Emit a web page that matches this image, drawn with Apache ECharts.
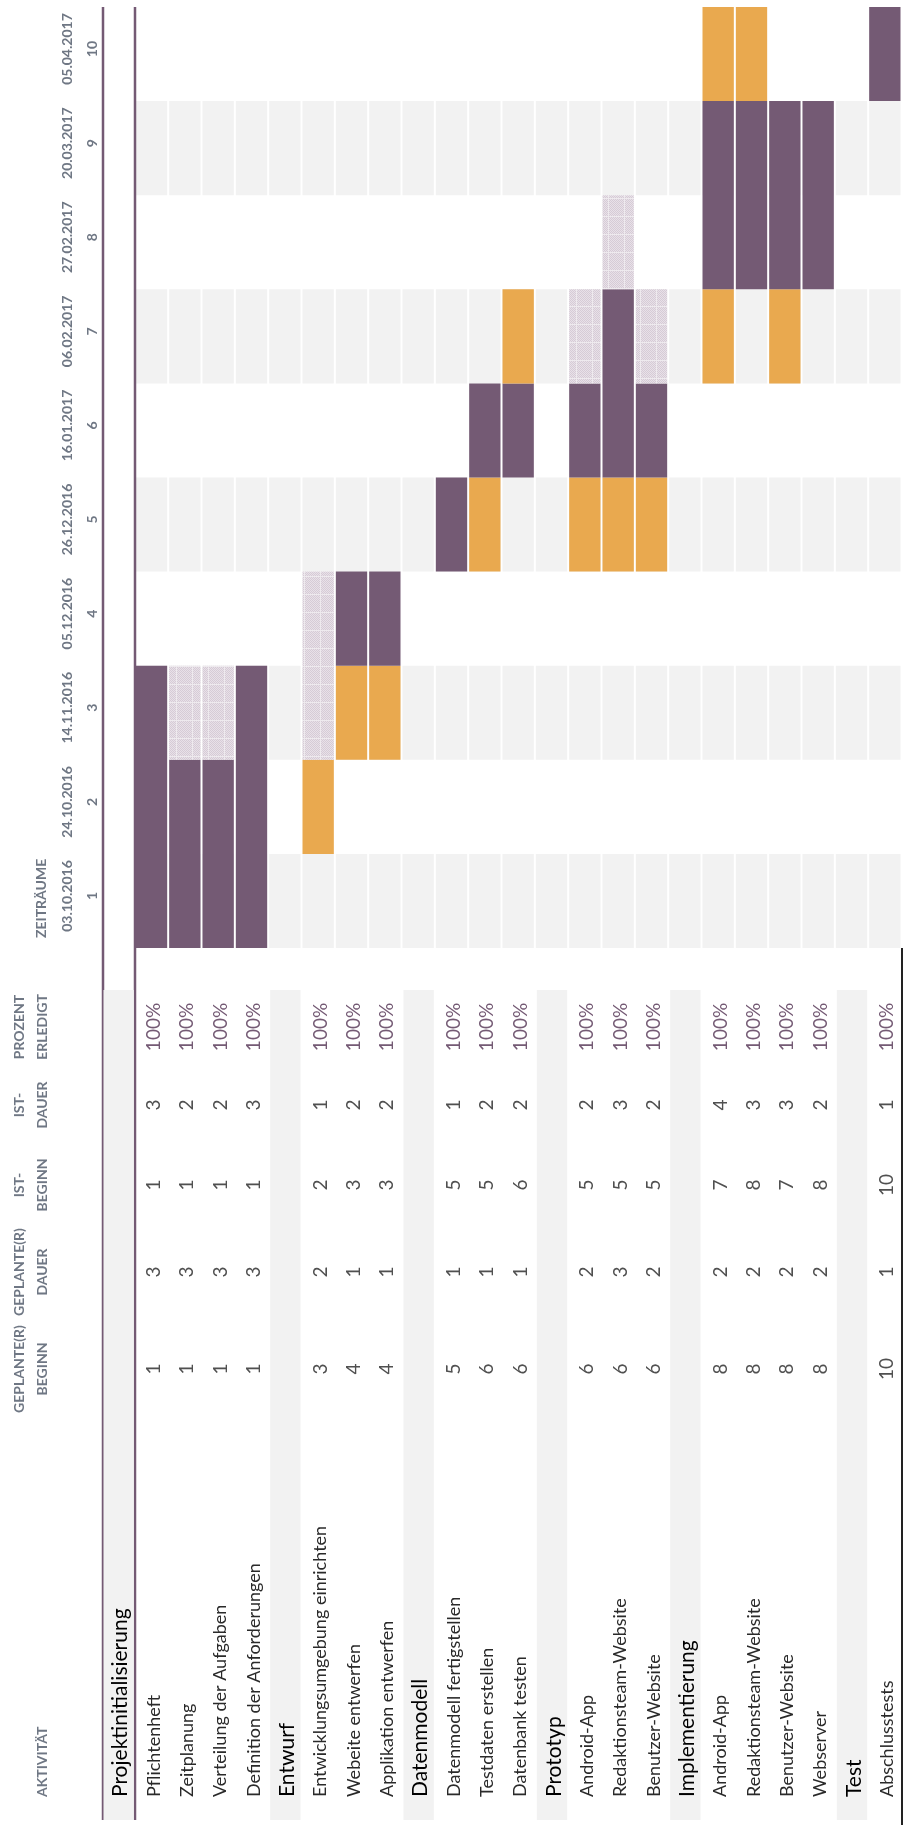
<!DOCTYPE html>
<html>
<head>
<meta charset="utf-8">
<script src="https://cdn.jsdelivr.net/npm/echarts@6/dist/echarts.min.js"></script>
<style>
  html, body { margin: 0; padding: 0; background: #fff; }
  #main { width: 905px; height: 1831px; }
</style>
</head>
<body>
<div id="main"></div>
<script>
// Projektplan, um 90° gedreht
var activities = ['Projektinitialisierung', 'Pflichtenheft', 'Zeitplanung', 'Verteilung der Aufgaben',
    'Definition der Anforderungen', 'Entwurf', 'Entwicklungsumgebung einrichten', 'Webeite entwerfen',
    'Applikation entwerfen', 'Datenmodell', 'Datenmodell fertigstellen', 'Testdaten erstellen',
    'Datenbank testen', 'Prototyp', 'Android-App', 'Redaktionsteam-Website', 'Benutzer-Website',
    'Implementierung', 'Android-App', 'Redaktionsteam-Website', 'Benutzer-Website', 'Webserver',
    'Test', 'Abschlusstests'];
// null = Abschnittszeile
var planStart = [null, 1, 1, 1, 1, null, 3, 4, 4, null, 5, 6, 6, null, 6, 6, 6, null, 8, 8, 8, 8, null, 10];
var planDur   = [null, 3, 3, 3, 3, null, 2, 1, 1, null, 1, 1, 1, null, 2, 3, 2, null, 2, 2, 2, 2, null, 1];
var actStart  = [null, 1, 1, 1, 1, null, 2, 3, 3, null, 5, 5, 6, null, 5, 5, 5, null, 7, 8, 7, 8, null, 10];
var actDur    = [null, 3, 2, 2, 3, null, 1, 2, 2, null, 1, 2, 2, null, 2, 3, 2, null, 4, 3, 3, 2, null, 1];
var percent   = [null, 100, 100, 100, 100, null, 100, 100, 100, null, 100, 100, 100, null, 100, 100, 100,
    null, 100, 100, 100, 100, null, 100];

var periods = ['1', '2', '3', '4', '5', '6', '7', '8', '9', '10'];
var dates = ['03.10.2016', '24.10.2016', '14.11.2016', '05.12.2016', '26.12.2016',
    '16.01.2017', '06.02.2017', '27.02.2017', '20.03.2017', '05.04.2017'];

var PURPLE = '#745a74', ORANGE = '#e9a94f', GRAY = '#f2f2f2';
var HEAD = '#6f7784', TXT = '#2a2a2a';
var FONT = 'Lato, "Open Sans", sans-serif';

// Schraffur für Plandauer
var pat = document.createElement('canvas');
pat.width = 16; pat.height = 18;
var pc = pat.getContext('2d');
pc.fillStyle = '#e8e1e8';
pc.fillRect(0, 0, 16, 18);
pc.fillStyle = '#d6cbd6';
for (var py = 0; py < 18; py++) {
    for (var px = 0; px < 16; px++) {
        if ((px + py) % 2 === 0) pc.fillRect(px, py, 1, 1);
    }
}
pc.fillStyle = '#eeeaee';
pc.fillRect(0, 0, 16, 1);
pc.fillRect(0, 0, 1, 18);
var HATCH = { image: pat, repeat: 'repeat' };

// Segmente: 1 = Ist im Plan, 2 = Ist über Plan hinaus, 3 = Plan ohne Ist
var segments = [];
activities.forEach(function (name, r) {
    if (planStart[r] == null) return;
    var cur = null;
    for (var p = 1; p <= 10; p++) {
        var inPlan = p >= planStart[r] && p < planStart[r] + planDur[r];
        var inAct = p >= actStart[r] && p < actStart[r] + actDur[r];
        var k = inAct ? (inPlan ? 1 : 2) : (inPlan ? 3 : 0);
        if (cur && cur[3] === k && k) { cur[2] = p - 1; continue; }
        cur = k ? [r, p - 1, p - 1, k] : null;
        if (cur) segments.push(cur);
    }
});

var shade = [];
for (var r = 1; r < activities.length; r++) {
    for (var q = 0; q < periods.length; q += 2) shade.push([r, q]);
}

var colY = [1369, 1272, 1185, 1105, 1027];
var cols = [planStart, planDur, actStart, actDur, percent];

var myChart = echarts.init(document.getElementById('main'));

function head(txt, y) {
    return { type: 'text', x: 31, y: y, rotation: Math.PI / 2,
        style: { text: txt, fill: HEAD, font: 'bold 14px ' + FONT, lineHeight: 23, align: 'center', verticalAlign: 'middle' } };
}

var option = {
    animation: false,
    grid: { left: 102, width: 800, top: 7, height: 941 },
    xAxis: { type: 'category', data: activities.map(function (a, i) { return i; }), show: false },
    yAxis: { type: 'category', data: periods, show: false },
    graphic: [
        { type: 'line', z: 1, shape: { x1: 103, y1: 7, x2: 103, y2: 1820 }, style: { stroke: PURPLE, lineWidth: 2.5 } },
        { type: 'line', z: 1, shape: { x1: 135, y1: 7, x2: 135, y2: 1820 }, style: { stroke: PURPLE, lineWidth: 2.5 } },
        { type: 'line', z: 1, shape: { x1: 902, y1: 948, x2: 902, y2: 1825 }, style: { stroke: '#222', lineWidth: 2 } },
        { type: 'text', x: 42, y: 1797, rotation: Math.PI / 2,
          style: { text: 'AKTIVITÄT', fill: HEAD, font: 'bold 14px ' + FONT, align: 'left', verticalAlign: 'middle' } },
        head('GEPLANTE(R)\nBEGINN', colY[0]),
        head('GEPLANTE(R)\nDAUER', colY[1]),
        head('IST-\nBEGINN', colY[2]),
        head('IST-\nDAUER', colY[3]),
        head('PROZENT\nERLEDIGT', colY[4]),
        { type: 'text', x: 41, y: 938, rotation: Math.PI / 2,
          style: { text: 'ZEITRÄUME', fill: HEAD, font: 'bold 14px ' + FONT, align: 'left', verticalAlign: 'middle' } }
    ],
    series: [
        {
            // graue Bänder der ungeraden Zeiträume
            type: 'custom',
            z: 0,
            encode: { x: 0, y: 1 },
            data: shade,
            renderItem: function (params, api) {
                var c = api.coord([api.value(0), api.value(1)]);
                var s = api.size([1, 1]);
                return { type: 'rect', shape: { x: c[0] - s[0] / 2 + 0.5, y: c[1] - s[1] / 2, width: s[0] - 2, height: s[1] },
                    style: { fill: GRAY } };
            }
        },
        {
            type: 'custom',
            z: 3,
            encode: { x: 0, y: [1, 2] },
            data: segments,
            renderItem: function (params, api) {
                var a = api.coord([api.value(0), api.value(1)]);
                var b = api.coord([api.value(0), api.value(2)]);
                var s = api.size([1, 1]);
                var k = api.value(3);
                var fill = k === 1 ? PURPLE : (k === 2 ? ORANGE : HATCH);
                var top = b[1] - s[1] / 2, bottom = a[1] + s[1] / 2;
                return { type: 'rect', shape: { x: a[0] - s[0] / 2 + 0.5, y: top, width: s[0] - 2, height: bottom - top },
                    style: { fill: fill } };
            }
        },
        {
            // Zeitraum-Beschriftung
            type: 'custom',
            z: 3,
            encode: { x: 0, y: 1 },
            data: periods.map(function (p, i) { return [0, i]; }),
            renderItem: function (params, api) {
                var i = params.dataIndex;
                var c = api.coord([0, i]);
                return { type: 'group', children: [
                    { type: 'text', x: 67, y: c[1] - 5, rotation: Math.PI / 2,
                      style: { text: dates[i], fill: HEAD, font: 'bold 14px ' + FONT, align: 'center', verticalAlign: 'middle' } },
                    { type: 'text', x: 92, y: c[1] - 5, rotation: Math.PI / 2,
                      style: { text: periods[i], fill: HEAD, font: 'bold 14px ' + FONT, align: 'center', verticalAlign: 'middle' } }
                ] };
            }
        },
        {
            // Tabelle
            type: 'custom',
            z: 2,
            encode: { x: 0, y: 1 },
            data: activities.map(function (a, i) { return [i, 0]; }),
            renderItem: function (params, api) {
                var i = params.dataIndex;
                var c = api.coord([i, 0]);
                var s = api.size([1, 1]);
                var xc = c[0];
                var sec = planStart[i] == null;
                var children = [];
                if (sec) {
                    children.push({ type: 'rect', shape: { x: xc - s[0] / 2 + 1.5, y: 990, width: s[0] - 3, height: 830 },
                        style: { fill: GRAY } });
                }
                children.push({ type: 'text', x: xc + 2, y: 1797, rotation: Math.PI / 2,
                    style: { text: activities[i], fill: sec ? '#000' : TXT,
                        font: (sec ? '21px ' : '18px ') + FONT, align: 'left', verticalAlign: 'middle' } });
                if (!sec) {
                    cols.forEach(function (arr, j) {
                        children.push({ type: 'text', x: xc + 2, y: colY[j], rotation: Math.PI / 2,
                            style: { text: j === 4 ? arr[i] + '%' : String(arr[i]), fill: j === 4 ? PURPLE : '#505050',
                                font: '19px ' + FONT, align: 'center', verticalAlign: 'middle' } });
                    });
                }
                return { type: 'group', children: children };
            }
        }
    ]
};

myChart.setOption(option);
</script>
</body>
</html>
